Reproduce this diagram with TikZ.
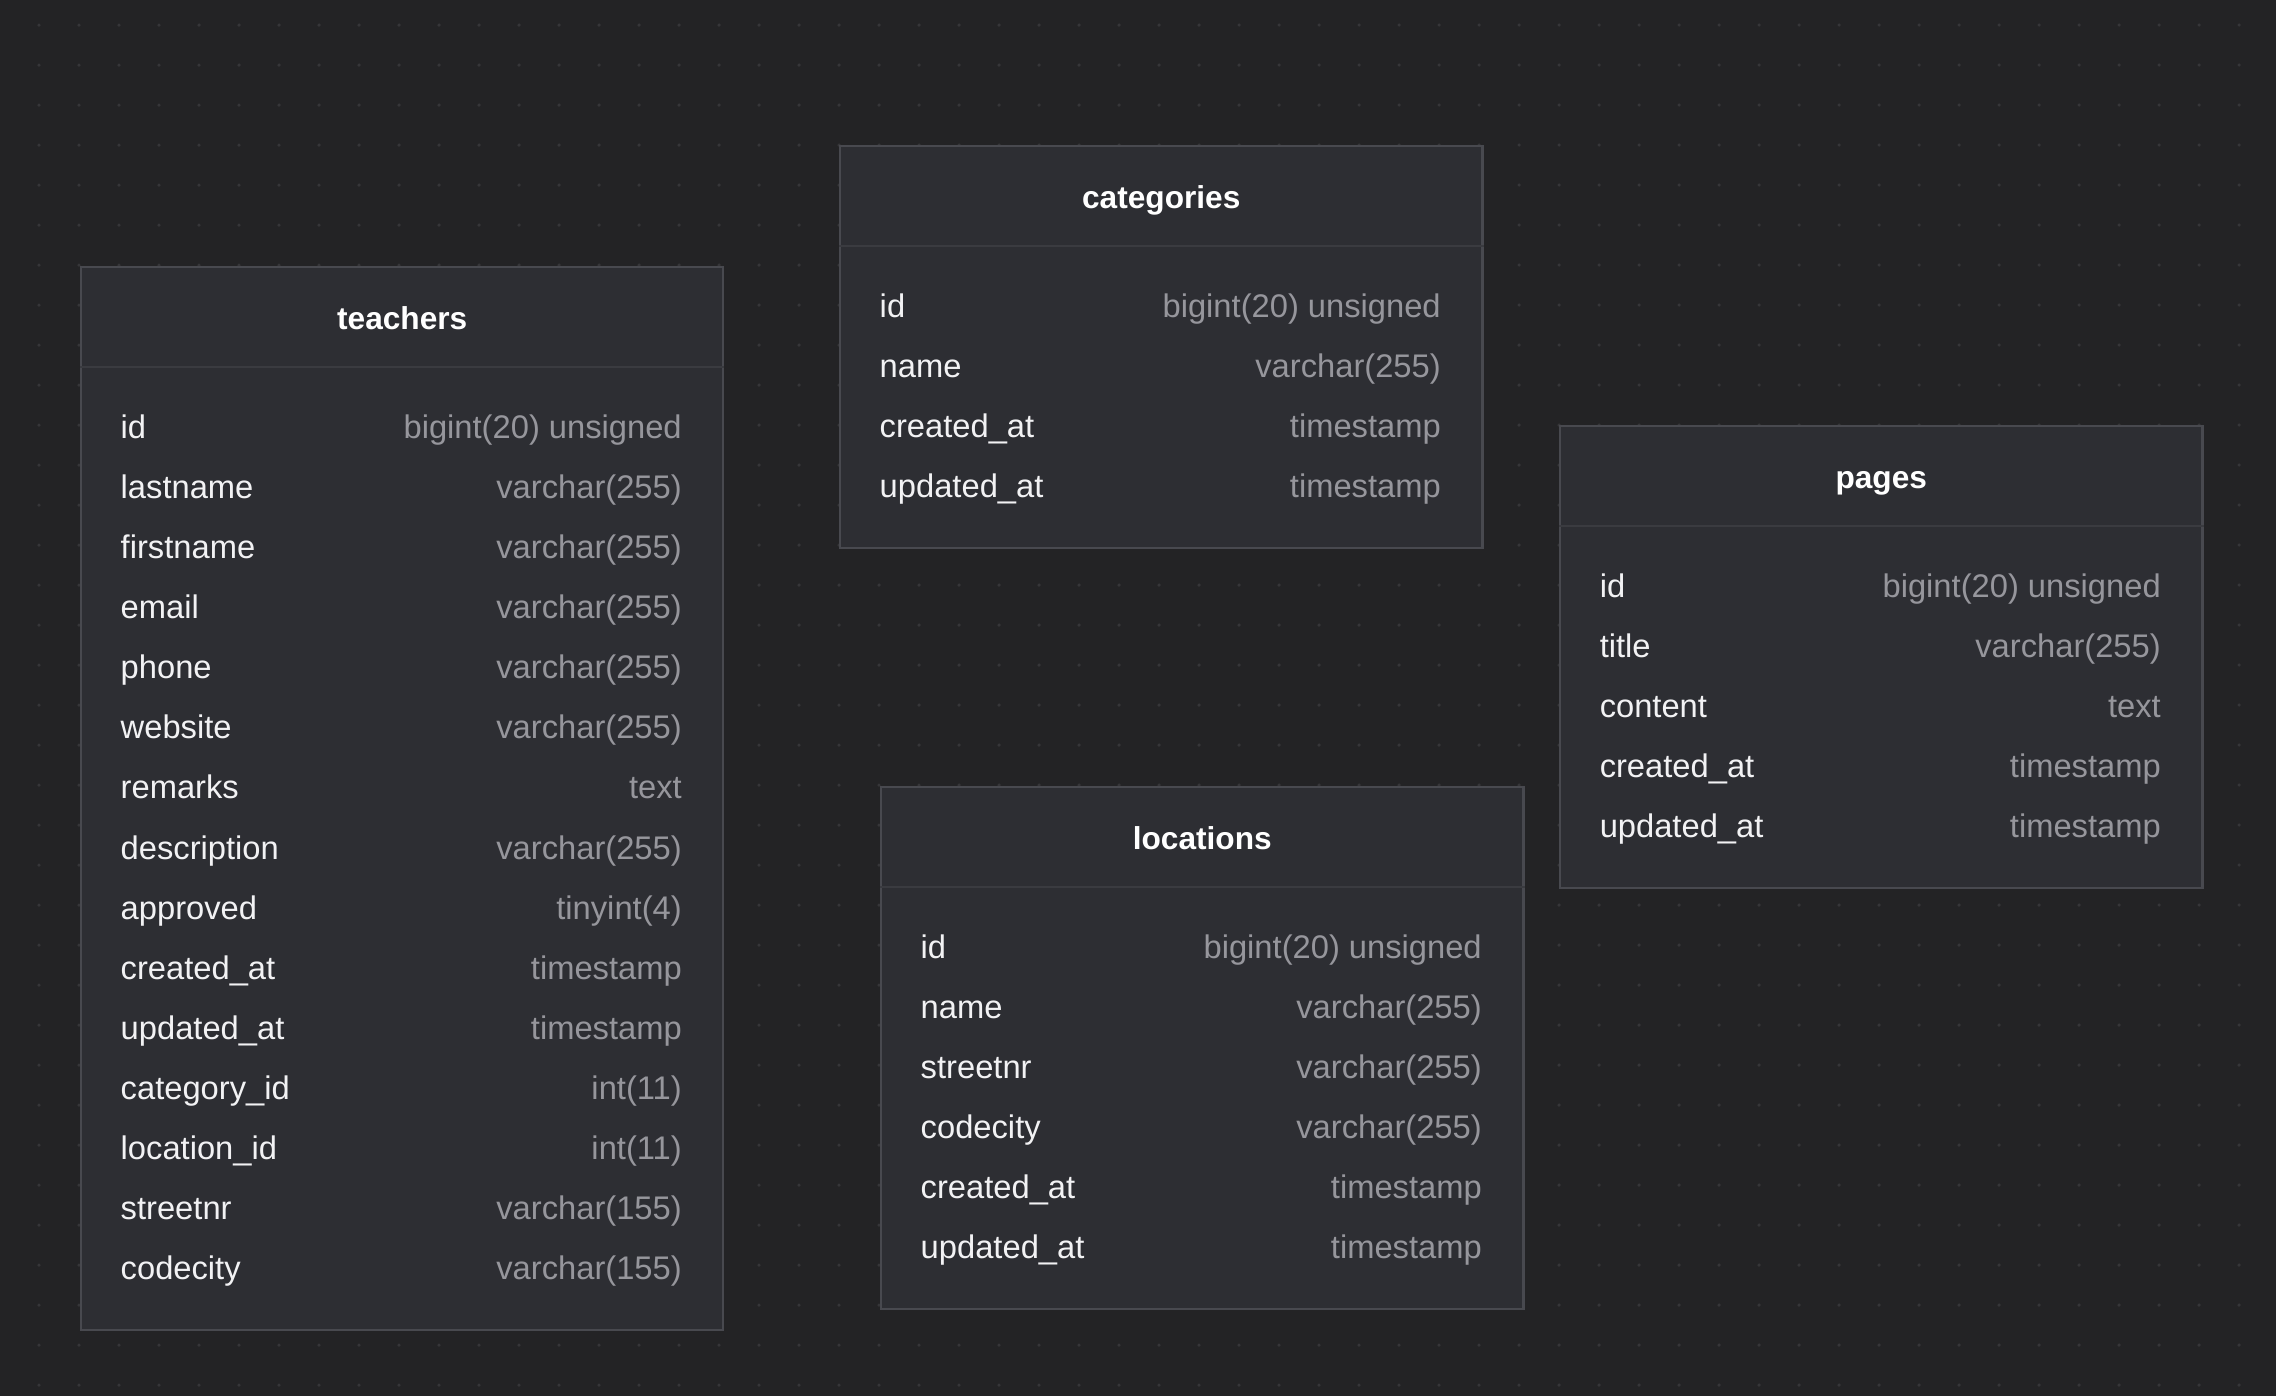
\documentclass[tikz,border=0pt]{standalone}
\usepackage{fontspec}
\setmainfont{Liberation Sans}
\usetikzlibrary{positioning}

\definecolor{canvas}{RGB}{35,35,37}
\definecolor{griddot}{RGB}{54,54,57}
\definecolor{tablefill}{RGB}{45,46,51}
\definecolor{tableline}{RGB}{72,73,79}
\definecolor{divline}{RGB}{58,59,64}
\definecolor{fieldtxt}{RGB}{242,242,244}
\definecolor{typetxt}{RGB}{150,150,156}

\tikzset{
	tablebox/.style={draw=tableline, fill=tablefill, line width=0.6pt, inner sep=0pt, anchor=north west, minimum width=6.42cm},
	tabletitle/.style={text=white, font=\fontsize{9}{11}\selectfont\bfseries, inner sep=0pt, text height=0.72em, text depth=0em},
	fieldname/.style={text=fieldtxt, font=\fontsize{9.3}{11}\selectfont, inner sep=0pt, anchor=west, text height=0.72em, text depth=0em},
	fieldtype/.style={text=typetxt, font=\fontsize{9.3}{11}\selectfont, inner sep=0pt, anchor=east, text height=0.72em, text depth=0em}
}

% #1 name, #2 top left corner, #3 title, #4 number of rows, #5 rows
\newcommand{\erdtable}[5]{
	\pgfmathsetmacro\tblh{(60*#4+162)/100}
	\node[tablebox, minimum height=\tblh cm] (#1) at #2 {};
	\draw[divline, line width=0.6pt] ([yshift=-1.01cm]#1.north west) -- ([yshift=-1.01cm]#1.north east);
	\node[tabletitle] (#1-title) at ([yshift=-0.51cm]#1.north) {#3};
	\foreach \fld/\typ [count=\i] in {#5}{
		\node[fieldname] (#1-\i) at ([xshift=0.4cm, yshift={-1.0cm-0.6cm*\i}]#1.north west) {\fld};
		\node[fieldtype] (#1-\i-type) at ([xshift=-0.42cm, yshift={-1.0cm-0.6cm*\i}]#1.north east) {\typ};
	}
}

\begin{document}
\begin{tikzpicture}[x=0.01cm, y=-0.01cm]
	\fill[canvas] (0,0) rectangle (2276,1396);
	\useasboundingbox (0,0) rectangle (2276,1396);
	% dotted canvas
	\foreach \x in {39,79,...,2276}{
		\foreach \y in {25,65,...,1396}{
			\fill[griddot] (\x,\y) circle (0.5pt);
		}
	}

	\erdtable{teachers}{(80,266)}{teachers}{15}{
		id/bigint(20) unsigned, lastname/varchar(255), firstname/varchar(255),
		email/varchar(255), phone/varchar(255), website/varchar(255),
		remarks/text, description/varchar(255), approved/tinyint(4),
		created\_at/timestamp, updated\_at/timestamp, category\_id/int(11),
		location\_id/int(11), streetnr/varchar(155), codecity/varchar(155)}

	\erdtable{categories}{(839,145)}{categories}{4}{
		id/bigint(20) unsigned, name/varchar(255),
		created\_at/timestamp, updated\_at/timestamp}

	\erdtable{pages}{(1559,425)}{pages}{5}{
		id/bigint(20) unsigned, title/varchar(255), content/text,
		created\_at/timestamp, updated\_at/timestamp}

	\erdtable{locations}{(880,786)}{locations}{6}{
		id/bigint(20) unsigned, name/varchar(255), streetnr/varchar(255),
		codecity/varchar(255), created\_at/timestamp, updated\_at/timestamp}
\end{tikzpicture}
\end{document}
